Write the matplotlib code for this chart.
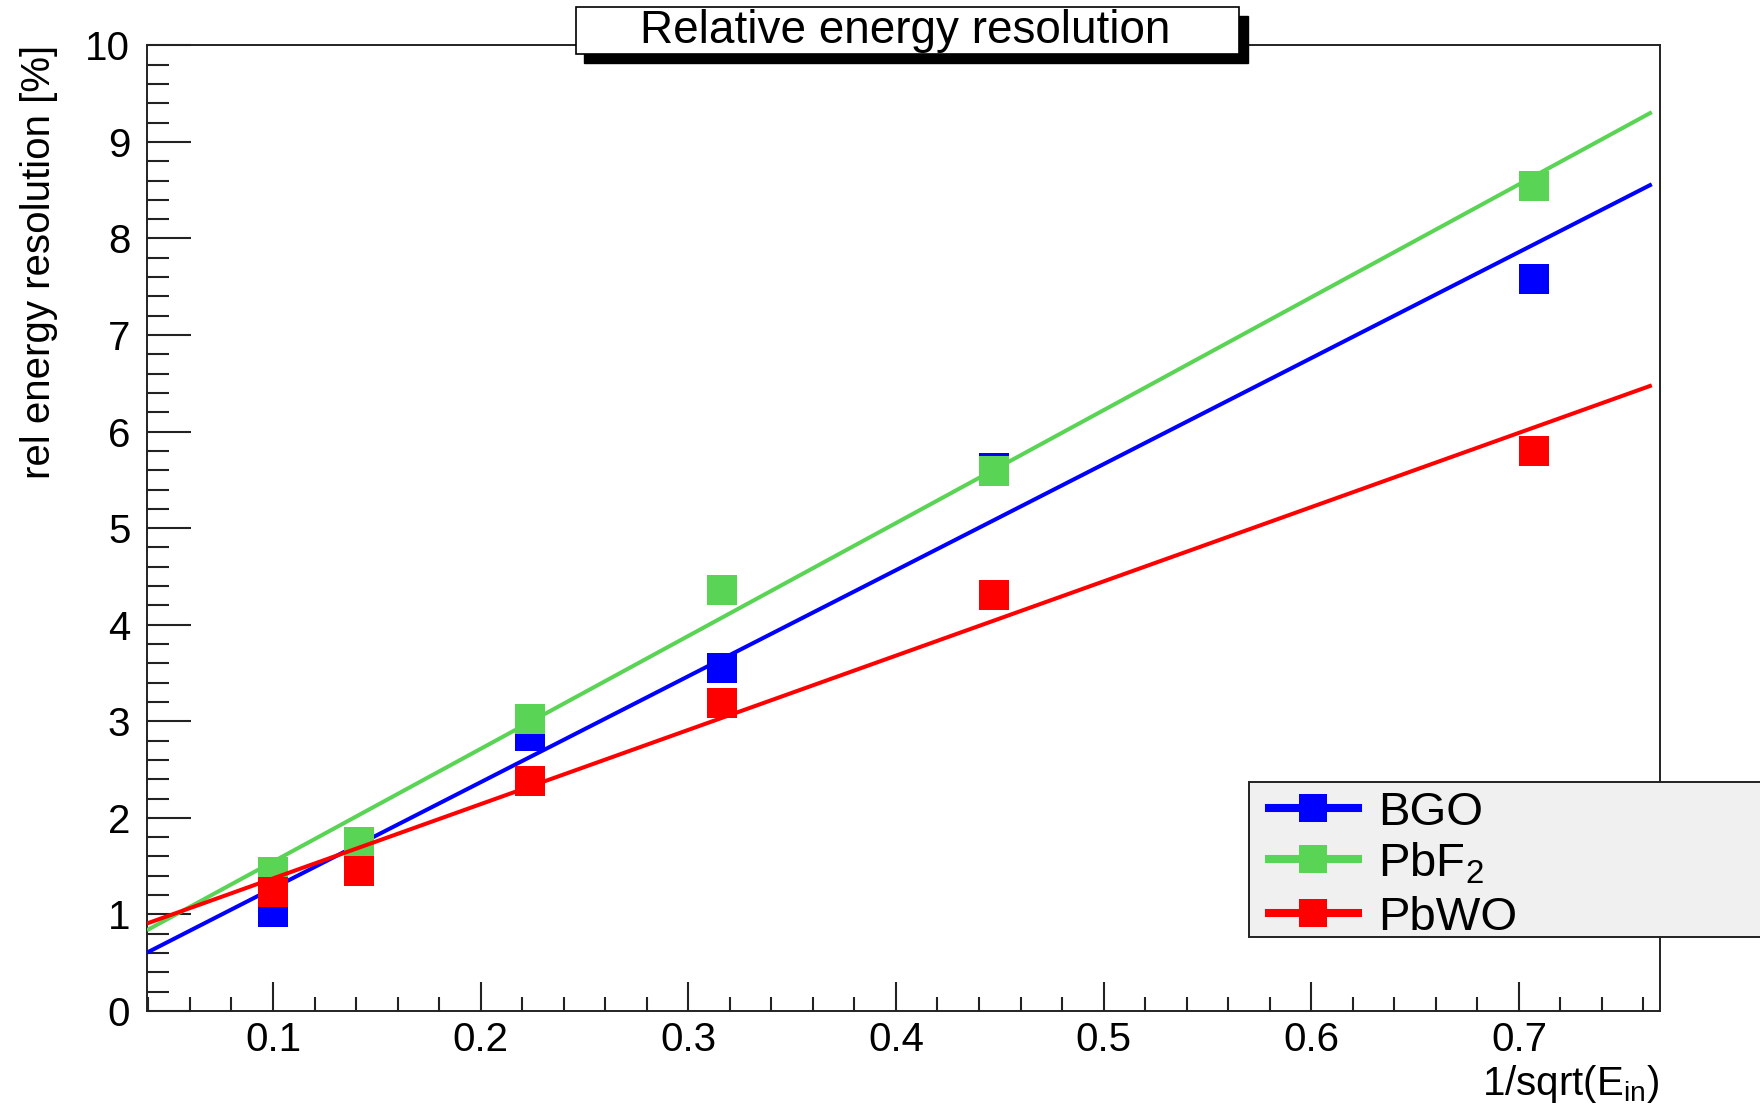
import matplotlib
matplotlib.use("Agg")
import matplotlib.pyplot as plt
import numpy as np
from matplotlib.ticker import MultipleLocator, FormatStrFormatter
from matplotlib.patches import Rectangle
from matplotlib.lines import Line2D

plt.rcParams['font.family'] = ['Liberation Sans', 'DejaVu Sans']
plt.rcParams['mathtext.default'] = 'regular'

# ---- data ----
x_vals = [0.1, 0.1414, 0.2236, 0.3162, 0.4472, 0.7071]
series_names = ['BGO', 'PbF$_2$', 'PbWO']
bgo = [1.03, 1.60, 2.85, 3.55, 5.62, 7.58]
pbf2 = [1.44, 1.75, 3.02, 4.36, 5.59, 8.54]
pbwo = [1.23, 1.45, 2.38, 3.19, 4.31, 5.80]
fit_slope = [10.98, 11.69, 7.69]
fit_offset = [0.173, 0.377, 0.604]
fit_range = [0.0393, 0.764]
x_ticks = [0.1, 0.2, 0.3, 0.4, 0.5, 0.6, 0.7]
y_ticks = [0, 1, 2, 3, 4, 5, 6, 7, 8, 9, 10]

colors = ['#0000ff', '#59d454', '#ff0000']
series = [bgo, pbf2, pbwo]

W, H = 1760, 1106
fig = plt.figure(figsize=(W / 100, H / 100), dpi=100)
ax = fig.add_axes([0.0835, 0.0859, 0.943 - 0.0835, 0.959 - 0.0859])
ax.set_xlim(0.0393, 0.7678)
ax.set_ylim(0, 10)

xf = np.array(fit_range)
z = 3
for vals, c, a, b in zip(series, colors, fit_slope, fit_offset):
    ax.plot(x_vals, vals, linestyle='none', marker='s', ms=22, mew=0,
            color=c, zorder=z)
    ax.plot(xf, a * xf + b, color=c, lw=2.9, zorder=z + 1,
            solid_capstyle='butt')
    z += 2

for s in ax.spines.values():
    s.set_linewidth(1.4)
    s.set_color('#222222')

ax.set_xticks(x_ticks)
ax.set_yticks(y_ticks)
ax.xaxis.set_major_formatter(FormatStrFormatter('%.1f'))
ax.yaxis.set_major_formatter(FormatStrFormatter('%d'))
ax.xaxis.set_minor_locator(MultipleLocator(0.02))
ax.yaxis.set_minor_locator(MultipleLocator(0.2))
ax.tick_params(axis='x', which='major', direction='in', length=20.9,
               width=1.5, top=False, labelsize=29, pad=7, color='#222222')
ax.tick_params(axis='x', which='minor', direction='in', length=10.4,
               width=1.5, top=False, color='#222222')
ax.tick_params(axis='y', which='major', direction='in', length=32,
               width=1.5, right=False, labelsize=29, pad=12, color='#222222')
ax.tick_params(axis='y', which='minor', direction='in', length=16,
               width=1.5, right=False, color='#222222')

# axis titles
fig.text(0.022, 0.959, 'rel energy resolution [%]', rotation=90,
         ha='center', va='top', fontsize=29)
fig.text(0.943, 0.010, '1/sqrt(E$_{in}$)', ha='right', va='baseline',
         fontsize=29)

# title box with shadow
tl, tr, tt, tb = 0.327, 0.704, 0.9937, 0.951
dx, dy = 0.0051, 0.0081
fig.patches.append(Rectangle((tl + dx, tb - dy), tr - tl, tt - tb,
                             transform=fig.transFigure, facecolor='black',
                             edgecolor='black', zorder=10))
fig.patches.append(Rectangle((tl, tb), tr - tl, tt - tb,
                             transform=fig.transFigure, facecolor='white',
                             edgecolor='black', lw=1.2, zorder=11))
fig.text((tl + tr) / 2 - 0.001, (tt + tb) / 2, 'Relative energy resolution',
         ha='center', va='center', fontsize=33, zorder=12)

# legend
fig.patches.append(Rectangle((0.7097, 0.1528), 0.35, 0.1402,
                             transform=fig.transFigure, facecolor='#f0f0f0',
                             edgecolor='#222222', lw=1.4, zorder=10))
leg_y = [0.2694, 0.2233, 0.1745]
for name, c, yy in zip(series_names, colors, leg_y):
    fig.lines.append(Line2D([0.721, 0.7716], [yy, yy], color=c, lw=5.8,
                            transform=fig.transFigure, zorder=11))
    fig.lines.append(Line2D([0.7463], [yy], color=c, marker='s', ms=20,
                            mew=0, linestyle='none',
                            transform=fig.transFigure, zorder=12))
    fig.text(0.783, yy, name, ha='left', va='center_baseline', fontsize=34,
             zorder=13)

fig.savefig('out.png', dpi=100)
